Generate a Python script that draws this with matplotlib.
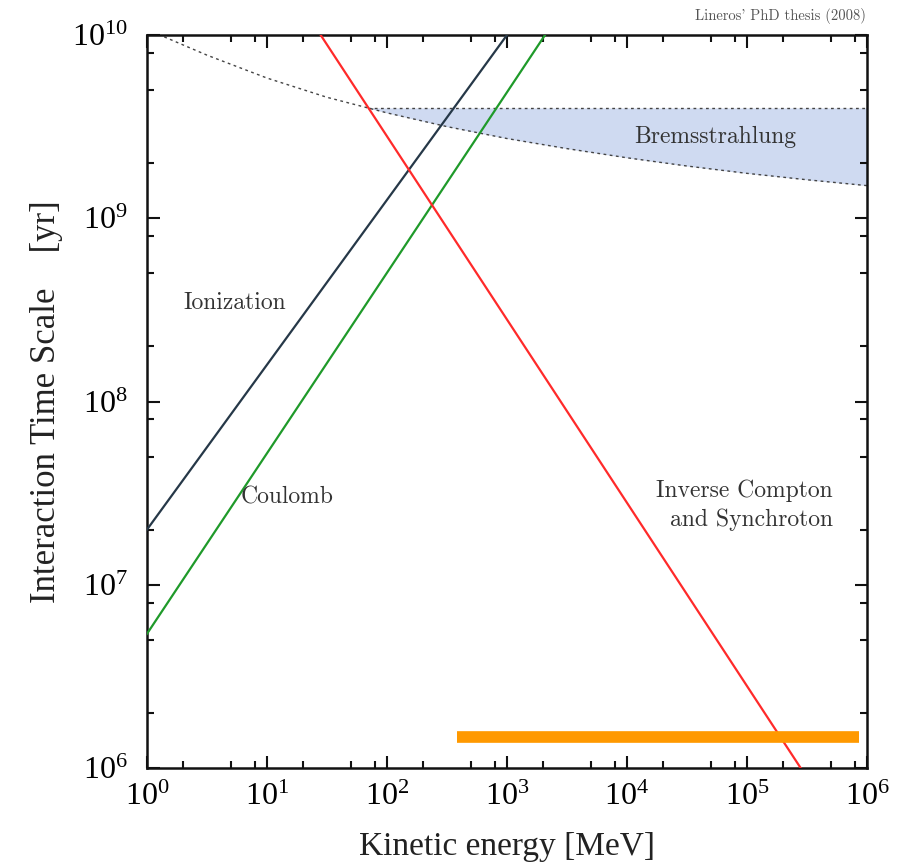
import numpy as np
import matplotlib
matplotlib.use("Agg")
import matplotlib.pyplot as plt
import matplotlib.ticker as mticker

plt.rcParams['font.family'] = ['Liberation Serif', 'DejaVu Serif']
plt.rcParams['mathtext.fontset'] = 'stix'

# 各過程の時間スケール [yr] vs 運動エネルギー [MeV]
ion_E = [1.0, 1.0e3]
ion_t = [2.0e7, 1.0e10]

coul_E = [1.0, 2075.0]
coul_t = [5.4e6, 1.0e10]

ics_E = [28.0, 2.8e5]
ics_t = [1.0e10, 1.0e6]

# 制動放射の下限曲線 (log10) と上限
brems_logE = [0.0, 0.5, 1.0, 1.5, 2.0, 2.5, 3.0, 3.5, 4.0, 4.5, 5.0, 5.5, 6.0]
brems_logt = [10.03, 9.89, 9.765, 9.66, 9.575, 9.50, 9.435, 9.38, 9.33, 9.285,
              9.245, 9.21, 9.178]
brems_top = 4.0e9

# 観測エネルギー帯
band_E = [380.0, 8.6e5]
band_t = [1.47e6, 1.47e6]

fig = plt.figure(figsize=(9.04, 8.64), dpi=100)
ax = fig.add_axes((147 / 904, 1 - 768 / 864, 720 / 904, 733 / 864))
ax.set_xscale('log')
ax.set_yscale('log')
ax.set_xlim(1, 1e6)
ax.set_ylim(1e6, 1e10)

# 制動放射の帯: 下限曲線が上限と交わる点から右側を塗る
lE = np.array(brems_logE)
lt = np.array(brems_logt)
top_log = np.log10(brems_top)
E_cross = np.interp(top_log, lt[::-1], lE[::-1])
sel = lE > E_cross
fill_lE = np.concatenate([[E_cross], lE[sel]])
fill_lt = np.concatenate([[top_log], lt[sel]])
ax.fill_between(10 ** fill_lE, 10 ** fill_lt, brems_top, color='#cfdaf1', lw=0, zorder=1)
dot = (0, (2.0, 2.5))
ax.plot(10 ** lE, 10 ** lt, color='#444444', lw=1.0, ls=dot, zorder=2)
ax.plot([10 ** E_cross, 1e6], [brems_top, brems_top], color='#444444', lw=1.0,
        ls=dot, zorder=2)

ax.plot(ion_E, ion_t, color='#263848', lw=1.6, zorder=3)
ax.plot(coul_E, coul_t, color='#1f9a2a', lw=1.6, zorder=3)
ax.plot(ics_E, ics_t, color='#ff2a2a', lw=1.6, zorder=3)
ax.plot(band_E, band_t, color='#ff9900', lw=8.4, solid_capstyle='butt', zorder=4)

# ラベル
cm = 'cmr10'
ax.text(5.4, 3.44e8, 'Ionization', family=cm, fontsize=17, color='#333333',
        ha='center', va='center')
ax.text(14.7, 3.0e7, 'Coulomb', family=cm, fontsize=17, color='#333333',
        ha='center', va='center')
ax.text(5.4e4, 2.77e9, 'Bremsstrahlung', family=cm, fontsize=17, color='#333333',
        ha='center', va='center', zorder=5)
ax.text(5.2e5, 2.72e7, 'Inverse Compton\nand Synchroton', family=cm, fontsize=17,
        color='#333333', ha='right', va='center', multialignment='right',
        linespacing=1.35)
fig.text(866 / 904, 1 - 16 / 864, "Lineros' PhD thesis (2008)", family=cm,
         fontsize=10.5, color='#555555', ha='right', va='center')

# 目盛り
for axis in (ax.xaxis, ax.yaxis):
    axis.set_major_locator(mticker.LogLocator(base=10, numticks=20))
    axis.set_minor_locator(mticker.LogLocator(base=10, subs=(2.0, 5.0, 8.0), numticks=20))
    axis.set_minor_formatter(mticker.NullFormatter())
ax.tick_params(which='both', direction='in', top=True, right=True, width=1.5,
               color='#111111')
ax.tick_params(which='major', length=9, labelsize=23)
ax.tick_params(axis='x', which='major', pad=11)
ax.tick_params(axis='y', which='major', pad=14)
ax.tick_params(which='minor', length=5)
for s in ax.spines.values():
    s.set_linewidth(1.8)
    s.set_color('#111111')

ax.set_xlabel('Kinetic energy [MeV]', fontsize=24, color='#222222', labelpad=14)
ax.set_ylabel('Interaction Time Scale    [yr]', fontsize=25, color='#222222',
              labelpad=6)

fig.savefig('out.png', dpi=100)
